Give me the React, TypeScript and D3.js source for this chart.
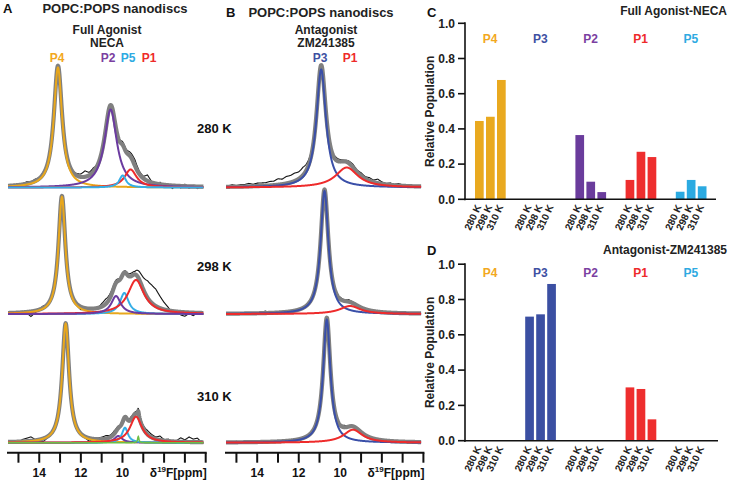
import React from 'react';
import * as d3 from 'd3';

const FONT = '"Liberation Sans", Arial, Helvetica, sans-serif';

// ---------- Bar chart data (relative populations) ----------
const temps = ['280 K', '298 K', '310 K'];
const groups = ['P4', 'P3', 'P2', 'P1', 'P5'];
const necaP4 = [0.445, 0.469, 0.678];
const necaP3 = [0, 0, 0];
const necaP2 = [0.365, 0.1, 0.041];
const necaP1 = [0.11, 0.27, 0.24];
const necaP5 = [0.043, 0.11, 0.074];
const zmP4 = [0, 0, 0];
const zmP3 = [0.703, 0.716, 0.888];
const zmP2 = [0, 0, 0];
const zmP1 = [0.302, 0.293, 0.121];
const zmP5 = [0, 0, 0];
const yTicks = [0, 0.2, 0.4, 0.6, 0.8, 1.0];

// ---------- Spectra: fitted Lorentzian components (ppm, height, fwhm) ----------
const necaFit280 = [
  { name: 'P4', center: 13.1, height: 1.2, fwhm: 0.48 },
  { name: 'P2', center: 10.57, height: 0.78, fwhm: 0.72 },
  { name: 'P1', center: 9.61, height: 0.18, fwhm: 0.7 },
  { name: 'P5', center: 9.99, height: 0.12, fwhm: 0.4 },
];
const necaFit298 = [
  { name: 'P4', center: 12.91, height: 1.17, fwhm: 0.4 },
  { name: 'P5', center: 9.91, height: 0.21, fwhm: 0.5 },
  { name: 'P1', center: 9.35, height: 0.34, fwhm: 0.95 },
  { name: 'P2', center: 10.31, height: 0.18, fwhm: 0.55 },
];
const necaFit310 = [
  { name: 'P4', center: 12.73, height: 1.19, fwhm: 0.4 },
  { name: 'P2', center: 10.2, height: 0.067, fwhm: 0.45 },
  { name: 'P5', center: 9.88, height: 0.15, fwhm: 0.35 },
  { name: 'P1', center: 9.35, height: 0.26, fwhm: 0.7 },
  { name: 'minor', center: 9.24, height: 0.06, fwhm: 0.08 },
];
const zmFit280 = [
  { name: 'P3', center: 10.92, height: 1.18, fwhm: 0.55 },
  { name: 'P1', center: 9.69, height: 0.2, fwhm: 1.3 },
];
const zmFit298 = [
  { name: 'P3', center: 10.76, height: 1.23, fwhm: 0.45 },
  { name: 'P1', center: 9.53, height: 0.08, fwhm: 1.2 },
];
const zmFit310 = [
  { name: 'P3', center: 10.65, height: 1.23, fwhm: 0.42 },
  { name: 'P1', center: 9.39, height: 0.13, fwhm: 1.1 },
];

// experimental trace minus fit, read every 0.2 ppm from 15.4 to 6.2 (x0.01 units)
const residPpm = [15.4, 15.2, 15.0, 14.8, 14.6, 14.4, 14.2, 14.0, 13.8, 13.6, 13.4, 13.2, 13.0, 12.8, 12.6, 12.4,
  12.2, 12.0, 11.8, 11.6, 11.4, 11.2, 11.0, 10.8, 10.6, 10.4, 10.2, 10.0, 9.8, 9.6, 9.4, 9.2, 9.0, 8.8, 8.6, 8.4,
  8.2, 8.0, 7.8, 7.6, 7.4, 7.2, 7.0, 6.8, 6.6, 6.4, 6.2];
const necaResid280 = [0, 1, 0, 1, 2, 1, 2, 1, 2, 1, 0, 0, 0, 1, 2, 1, 2, 3, 6, 3, 4, 2, 0, 0, 0, 0, 2, 3, 3, 4, 6, 3,
  2, 6, 1, -1, 2, -2, 1, -3, 1, -2, 2, -2, 1, -2, 0];
const necaResid298 = [0, 1, 0, 1, -1, -5, -2, 1, 2, 0, 0, 0, 0, 0, 0, 0, -1, -3, -1, 0, 1, 0, 3, 5, 4, 3, 2, 1, 2, 3,
  3, 8, 12, 17, 18, 17, 12, 7, 3, -2, 1, -3, -4, -1, -3, 0, 1];
const necaResid310 = [0, 1, 0, 2, 3, 4, 1, -2, -3, -1, 0, 0, 0, 0, 0, 0, 1, -1, -1, -3, 0, 1, 2, 3, 2, 3, 2, 0, 1, 3,
  2, 3, 3, 4, 3, 2, 4, 1, 2, 0, 1, 4, 2, 5, 3, 4, 0];
const zmResid280 = [1, 2, 1, 2, 2, 3, 2, 3, 3, 3, 4, 4, 6, 5, 7, 7, 8, 7, 8, 6, 4, 0, 0, 0, 0, 1, 3, 2, 1, 2, 3, 2,
  3, 2, 3, 2, 4, 2, 1, 2, 1, 2, 1, 0, 1, 0, 1];
const zmResid298 = [0, 1, 0, 0, 1, 0, -1, 0, 1, 2, 0, 1, 0, 1, 1, 0, 1, 0, 1, 0, 0, 0, 0, 0, 0, 0, 1, 2, 1, 2, 1, 1,
  0, 1, 0, 1, 0, -1, 0, 0, 1, 0, 0, -1, 0, 0, 0];
const zmResid310 = [0, 0, 1, 0, 0, 1, 0, 0, -1, 0, -1, 0, 0, 0, 0, 1, 0, 0, 0, 0, 0, 0, 0, 0, 0, 0, 1, 1, 2, 1, 1, 1,
  1, 0, 1, 0, 0, 0, -1, 0, 0, 0, 1, 0, 0, 0, 0];

const axisTicks = [15, 14, 13, 12, 11, 10, 9, 8, 7, 6];
const axisLabels = [14, 12, 10];
const tempLabels = ['280 K', '298 K', '310 K'];

// ---------- styles ----------
const barColor: Record<string, string> = {
  P4: '#E9A91F', P3: '#3B4FA2', P2: '#6A3C9C', P1: '#EE2E2E', P5: '#2BAAE1',
};
const labelColor: Record<string, string> = {
  P4: '#F2A81E', P3: '#3E50A2', P2: '#7B3FA1', P1: '#EE2A2A', P5: '#2EAAE2',
};
const fitColor: Record<string, string> = {
  P4: '#E8A71C', P3: '#3A4FA8', P2: '#6B3BA0', P1: '#EE2B2B', P5: '#35AEE6', minor: '#6DBE45',
};

const rowBaselines = [187.5, 314, 442.7];
const fine = d3.range(15.5, 6.1, -0.01);

type Peak = { name: string; center: number; height: number; fwhm: number };

function lor(p: Peak, v: number) {
  return p.height / (1 + ((v - p.center) / (p.fwhm / 2)) ** 2);
}

function Spectrum({ xs, baseline, peaks, resid }: { xs: d3.ScaleLinear<number, number>; baseline: number; peaks: Peak[]; resid: number[] }) {
  const y = d3.scaleLinear().domain([0, 1]).range([baseline, baseline - 100]);
  const total = (v: number) => d3.sum(peaks, (p) => lor(p, v));
  const residAt = d3.scaleLinear<number>().domain(residPpm).range(resid.map((r) => r / 100)).clamp(true);
  const dataPts = fine.filter((v) => v <= 15.41 && v >= 6.19);
  const line = d3.line<number>().x((v) => xs(v));
  const dataPath = line.y((v) => y(total(v) + residAt(v)))(dataPts) || '';
  const sumPath = d3.line<number>().x((v) => xs(v)).y((v) => y(total(v)))(fine) || '';
  return (
    <g>
      <path d={dataPath} fill="none" stroke="#141414" strokeWidth={1.1} />
      <path d={sumPath} fill="none" stroke="#808080" strokeWidth={4.2} strokeLinejoin="round" />
      {peaks.map((p, i) => (
        <path key={i} d={d3.line<number>().x((v) => xs(v)).y((v) => y(lor(p, v)))(fine) || ''}
          fill="none" stroke={fitColor[p.name]} strokeWidth={p.name === 'minor' ? 1.6 : 2} />
      ))}
    </g>
  );
}

function PpmAxis({ xs, y }: { xs: d3.ScaleLinear<number, number>; y: number }) {
  const [r0, r1] = xs.range();
  return (
    <g fontFamily={FONT} fontWeight="bold">
      <line x1={r0} x2={r1 + 1} y1={y} y2={y} stroke="#111" strokeWidth={2} />
      {axisTicks.map((t) => (
        <line key={t} x1={xs(t)} x2={xs(t)} y1={y} y2={y + 10} stroke="#111" strokeWidth={2} />
      ))}
      {axisLabels.map((t) => (
        <text key={t} x={xs(t)} y={y + 24} textAnchor="middle" fontSize={12} fill="#111">{t}</text>
      ))}
      <text x={r1 + 1} y={y + 24} textAnchor="end" fontSize={12} fill="#111">
        <tspan>δ</tspan>
        <tspan dy={-5} fontSize={8}>19</tspan>
        <tspan dy={5}>F[ppm]</tspan>
      </text>
    </g>
  );
}

function BarPanel({ values, top, axisY, axisEnd, title, letter, letterY, titleY, labelY }: any) {
  const y = d3.scaleLinear().domain([0, 1]).range([axisY, top]);
  const gx = d3.scaleBand().domain(groups).range([465, 716]).paddingInner(0).paddingOuter(0);
  const bx = d3.scaleBand().domain(temps).range([10, 40.7]).paddingInner(0.21).paddingOuter(0);
  return (
    <g fontFamily={FONT} fontWeight="bold">
      <text x={427} y={letterY} fontSize={13} fill="#111">{letter}</text>
      <text x={727} y={titleY} textAnchor="end" fontSize={12} fill="#222">{title}</text>
      {groups.map((g) => (
        <text key={g} x={(gx(g) as number) + gx.bandwidth() / 2} y={labelY} textAnchor="middle" fontSize={12} fill={labelColor[g]}>{g}</text>
      ))}
      {groups.map((g, gi) =>
        temps.map((t, ti) => {
          const v = values[gi][ti];
          if (!v) return null;
          return (
            <rect key={g + t} x={(gx(g) as number) + (bx(t) as number)} width={bx.bandwidth()} y={y(v)} height={y(0) - y(v)} fill={barColor[g]} />
          );
        })
      )}
      <line x1={465} x2={465} y1={top - 1} y2={axisY + 1} stroke="#111" strokeWidth={1.6} />
      <line x1={464} x2={axisEnd} y1={axisY} y2={axisY} stroke="#111" strokeWidth={1.6} />
      {yTicks.map((t) => (
        <g key={t}>
          <line x1={458} x2={465} y1={y(t)} y2={y(t)} stroke="#111" strokeWidth={1.6} />
          <text x={455} y={y(t)} dy="0.36em" textAnchor="end" fontSize={12} fill="#222">{d3.format('.1f')(t)}</text>
        </g>
      ))}
      <text transform={`translate(434,${(top + axisY) / 2}) rotate(-90)`} textAnchor="middle" fontSize={12} fill="#222">Relative Population</text>
      {groups.map((g) =>
        temps.map((t) => {
          const cx = (gx(g) as number) + (bx(t) as number) + bx.bandwidth() / 2;
          return (
            <text key={g + t} transform={`translate(${cx - 1},${axisY + 6}) rotate(-65)`} textAnchor="end" dy="0.35em" fontSize={10} fill="#222">{t}</text>
          );
        })
      )}
    </g>
  );
}

export default function App() {
  const xA = d3.scaleLinear().domain([15.55, 6]).range([7, 205.7]);
  const xB = d3.scaleLinear().domain([15.55, 6]).range([225, 423.4]);
  const necaFits = [necaFit280, necaFit298, necaFit310];
  const necaRes = [necaResid280, necaResid298, necaResid310];
  const zmFits = [zmFit280, zmFit298, zmFit310];
  const zmRes = [zmResid280, zmResid298, zmResid310];
  const tempLabelY = [133, 271, 401];
  return (
    <svg width={729} height={480} style={{ position: 'absolute', left: 0, top: 0, background: '#fff' }}>
      <rect width={729} height={480} fill="#fff" />
      {/* Panel A */}
      <g fontFamily={FONT} fontWeight="bold" fill="#111">
        <text x={3} y={13} fontSize={13}>A</text>
        <text x={115} y={13} fontSize={13} textAnchor="middle" fill="#222">POPC:POPS nanodiscs</text>
        <text x={107} y={34} fontSize={12} textAnchor="middle" fill="#222">Full Agonist</text>
        <text x={107} y={47} fontSize={12} textAnchor="middle" fill="#222">NECA</text>
        <text x={57} y={62} fontSize={12} textAnchor="middle" fill={labelColor.P4}>P4</text>
        <text x={108} y={62} fontSize={12} textAnchor="middle" fill={labelColor.P2}>P2</text>
        <text x={128} y={62} fontSize={12} textAnchor="middle" fill={labelColor.P5}>P5</text>
        <text x={149} y={62} fontSize={12} textAnchor="middle" fill={labelColor.P1}>P1</text>
        <text x={226} y={17} fontSize={13}>B</text>
        <text x={321} y={17} fontSize={13} textAnchor="middle" fill="#222">POPC:POPS nanodiscs</text>
        <text x={326} y={34} fontSize={12} textAnchor="middle" fill="#222">Antagonist</text>
        <text x={326} y={47} fontSize={12} textAnchor="middle" fill="#222">ZM241385</text>
        <text x={320} y={62} fontSize={12} textAnchor="middle" fill={labelColor.P3}>P3</text>
        <text x={350} y={62} fontSize={12} textAnchor="middle" fill={labelColor.P1}>P1</text>
        {tempLabels.map((t, i) => (
          <text key={t} x={197} y={tempLabelY[i]} fontSize={13} fill="#111">{t}</text>
        ))}
      </g>
      {necaFits.map((f, i) => (
        <Spectrum key={'a' + i} xs={xA} baseline={rowBaselines[i]} peaks={f} resid={necaRes[i]} />
      ))}
      {zmFits.map((f, i) => (
        <Spectrum key={'b' + i} xs={xB} baseline={rowBaselines[i]} peaks={f} resid={zmRes[i]} />
      ))}
      <PpmAxis xs={xA} y={452.7} />
      <PpmAxis xs={xB} y={452.7} />
      <BarPanel values={[necaP4, necaP3, necaP2, necaP1, necaP5]} top={23.3} axisY={199.3} axisEnd={716}
        title="Full Agonist-NECA" letter="C" letterY={17} titleY={15} labelY={43} />
      <BarPanel values={[zmP4, zmP3, zmP2, zmP1, zmP5]} top={264.2} axisY={440.7} axisEnd={718}
        title="Antagonist-ZM241385" letter="D" letterY={255} titleY={254} labelY={277} />
    </svg>
  );
}
